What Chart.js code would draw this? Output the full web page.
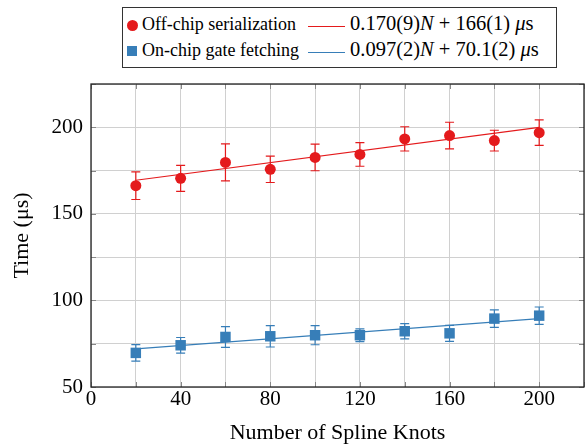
<!DOCTYPE html>
<html>
<head>
<meta charset="utf-8">
<script src="https://cdn.jsdelivr.net/npm/chart.js@4.4.1/dist/chart.umd.min.js"></script>
<style>
  body { margin: 0; background: #fff; }
  #wrap { position: relative; width: 585px; height: 447px; }
  #legend {
    position: absolute; left: 122px; top: 7px; width: 433px; height: 59px;
    border: 1px solid #333; background: #fff;
    font-family: "Liberation Serif", "DejaVu Serif", serif; color: #000;
  }
  #legend span { position: absolute; white-space: pre; line-height: 18px; }
  .lbl { font-size: 18px; }
  .fml { font-size: 20.5px; }
  .mk { position: absolute; }
  .ln { position: absolute; height: 1px; width: 37px; }
  i { font-style: italic; }
</style>
</head>
<body>
<div id="wrap">
  <canvas id="chart" width="585" height="447"></canvas>
  <div id="legend">
    <div class="mk" style="left:4px; top:12px; width:11px; height:11px; border-radius:50%; background:#e41a1c;"></div>
    <span class="lbl" style="left:19px; top:7px;">Off-chip serialization</span>
    <div class="ln" style="left:185px; top:18px; background:#e41a1c;"></div>
    <span class="fml" style="left:227px; top:6px;">0.170(9)<i>N</i> + 166(1) <i>μ</i>s</span>

    <div class="mk" style="left:4px; top:38px; width:10px; height:10px; background:#377eb8;"></div>
    <span class="lbl" style="left:19px; top:33px;">On-chip gate fetching</span>
    <div class="ln" style="left:185px; top:44px; background:#377eb8;"></div>
    <span class="fml" style="left:227px; top:32px;">0.097(2)<i>N</i> + 70.1(2) <i>μ</i>s</span>
  </div>
</div>
<script>
const knots = [20, 40, 60, 80, 100, 120, 140, 160, 180, 200];
const offChipTime = [166.3, 170.5, 179.7, 175.7, 182.6, 184.3, 193.3, 195.2, 192.3, 196.9];
const offChipErr = [8.0, 7.5, 10.7, 7.6, 7.7, 6.8, 7.0, 7.7, 6.0, 7.4];
const onChipTime = [69.7, 74.1, 78.9, 79.3, 79.9, 79.9, 82.2, 81.0, 89.5, 91.2];
const onChipErr = [4.8, 4.5, 6.0, 6.2, 5.5, 3.7, 4.4, 4.6, 5.1, 5.0];

// fitted lines, end points only
const fitKnots = [20, 200];
const offChipFit = [169.4, 200.0];
const onChipFit = [72.0, 89.5];

const red = '#e41a1c';
const blue = '#377eb8';
const serif = '"Liberation Serif", "DejaVu Serif", serif';

const toXY = (xs, ys) => xs.map((x, i) => ({ x: x, y: ys[i] }));

// error bars drawn through the chart scales
const errorBars = {
  id: 'errorBars',
  beforeDatasetsDraw(chart) {
    const ctx = chart.ctx;
    const xs = chart.scales.x, ys = chart.scales.y;
    const sets = [[offChipTime, offChipErr, red], [onChipTime, onChipErr, blue]];
    ctx.save();
    ctx.lineWidth = 1.2;
    sets.forEach(([vals, errs, col]) => {
      ctx.strokeStyle = col;
      knots.forEach((k, i) => {
        const px = xs.getPixelForValue(k);
        const top = ys.getPixelForValue(vals[i] + errs[i]);
        const bot = ys.getPixelForValue(vals[i] - errs[i]);
        ctx.beginPath();
        ctx.moveTo(px, top); ctx.lineTo(px, bot);
        ctx.moveTo(px - 4.5, top); ctx.lineTo(px + 4.5, top);
        ctx.moveTo(px - 4.5, bot); ctx.lineTo(px + 4.5, bot);
        ctx.stroke();
      });
    });
    ctx.restore();
  }
};

// frame around the plot with small inward ticks
const frame = {
  id: 'frame',
  afterDraw(chart) {
    const ctx = chart.ctx;
    const a = chart.chartArea;
    ctx.save();
    ctx.strokeStyle = '#888';
    ctx.lineWidth = 1;
    chart.scales.x.ticks.forEach(t => {
      const px = Math.round(chart.scales.x.getPixelForValue(t.value)) + 0.5;
      ctx.beginPath();
      ctx.moveTo(px, a.bottom); ctx.lineTo(px, a.bottom - 5);
      ctx.moveTo(px, a.top); ctx.lineTo(px, a.top + 5);
      ctx.stroke();
    });
    chart.scales.y.ticks.forEach(t => {
      const py = Math.round(chart.scales.y.getPixelForValue(t.value)) + 0.5;
      ctx.beginPath();
      ctx.moveTo(a.left, py); ctx.lineTo(a.left + 5, py);
      ctx.moveTo(a.right, py); ctx.lineTo(a.right - 5, py);
      ctx.stroke();
    });
    ctx.strokeStyle = '#222';
    ctx.lineWidth = 1.3;
    ctx.strokeRect(a.left, a.top, a.right - a.left, a.bottom - a.top);
    ctx.restore();
  }
};

new Chart(document.getElementById('chart').getContext('2d'), {
  type: 'scatter',
  data: {
    datasets: [
      {
        label: 'Off-chip fit',
        data: toXY(fitKnots, offChipFit),
        showLine: true,
        borderColor: red,
        borderWidth: 1.2,
        pointRadius: 0,
        order: 3
      },
      {
        label: 'On-chip fit',
        data: toXY(fitKnots, onChipFit),
        showLine: true,
        borderColor: blue,
        borderWidth: 1.2,
        pointRadius: 0,
        order: 3
      },
      {
        label: 'Off-chip serialization',
        data: toXY(knots, offChipTime),
        pointStyle: 'circle',
        pointRadius: 5.5,
        backgroundColor: red,
        borderColor: red,
        borderWidth: 0,
        order: 1
      },
      {
        label: 'On-chip gate fetching',
        data: toXY(knots, onChipTime),
        pointStyle: 'rect',
        pointRadius: 7.4,
        backgroundColor: blue,
        borderColor: blue,
        borderWidth: 0,
        order: 1
      }
    ]
  },
  options: {
    responsive: false,
    animation: false,
    layout: { autoPadding: false, padding: { top: 84, right: 1, left: 0, bottom: 0 } },
    plugins: {
      legend: { display: false },
      tooltip: { enabled: false }
    },
    scales: {
      x: {
        type: 'linear',
        min: 0,
        max: 220,
        afterFit: s => { s.height = 60; s.paddingLeft = 0; s.paddingRight = 0; },
        ticks: {
          stepSize: 20,
          padding: 0,
          color: '#000',
          font: { family: serif, size: 21 },
          maxRotation: 0,
          autoSkip: false,
          callback: v => (v % 40 === 0 && v <= 200 ? v : '')
        },
        grid: { color: '#d0d0d0', lineWidth: 1, drawTicks: false },
        border: { display: false },
        title: {
          display: true,
          text: 'Number of Spline Knots',
          color: '#000',
          font: { family: serif, size: 22 },
          padding: { top: 0, bottom: 1 }
        }
      },
      y: {
        type: 'linear',
        min: 50,
        max: 225,
        afterFit: s => { s.width = 91; s.paddingTop = 0; s.paddingBottom = 0; },
        ticks: {
          stepSize: 25,
          padding: 8,
          color: '#000',
          font: { family: serif, size: 21 },
          autoSkip: false,
          callback: v => (v % 50 === 0 ? v : '')
        },
        grid: { color: '#d0d0d0', lineWidth: 1, drawTicks: false },
        border: { display: false },
        title: {
          display: true,
          text: 'Time (μs)',
          color: '#000',
          font: { family: serif, size: 22 },
          padding: { top: 9, bottom: 0 }
        }
      }
    }
  },
  plugins: [errorBars, frame]
});
</script>
</body>
</html>
